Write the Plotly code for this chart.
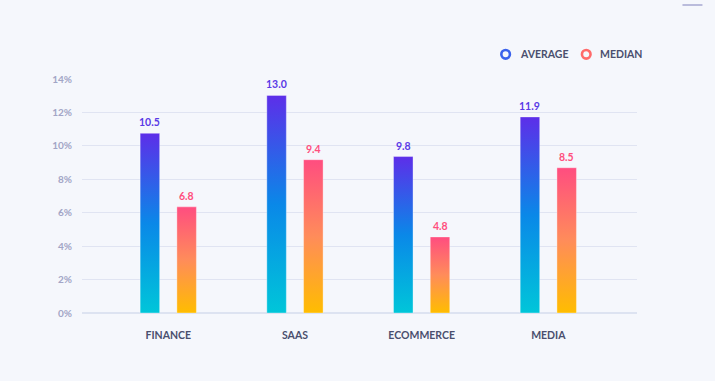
import plotly.graph_objects as go

categories = ["FINANCE", "SAAS", "ECOMMERCE", "MEDIA"]
average_heights = [10.75, 13.02, 9.36, 11.73]
median_heights = [6.35, 9.17, 4.55, 8.69]
average_labels = ["10.5", "13.0", "9.8", "11.9"]
median_labels = ["6.8", "9.4", "4.8", "8.5"]
y_ticks = [0, 2, 4, 6, 8, 10, 12, 14]
y_tick_labels = ["0%", "2%", "4%", "6%", "8%", "10%", "12%", "14%"]

BG = "#F5F7FC"
AVG_SCALE = [[0, "#00C6D9"], [0.5, "#0A88E8"], [1, "#5D2EE9"]]
MED_SCALE = [[0, "#FFBD00"], [0.5, "#FF8C5A"], [1, "#FF4D80"]]
AVG_TXT = "#5A3AE6"
MED_TXT = "#FF4F7E"
FONT = "Lato"

BAR_W = 0.154
AVG_OFF = -0.145
MED_OFF = 0.145

fig = go.Figure()


def add_bar(xc, v, scale):
    x0, x1 = xc - BAR_W / 2, xc + BAR_W / 2
    fig.add_trace(go.Scatter(
        x=[x0, x1, x1, x0, x0], y=[0, 0, v, v, 0],
        mode="lines", fill="toself",
        fillgradient=dict(type="vertical", colorscale=scale, start=0, stop=v),
        line=dict(width=1, color="rgba(255,255,255,0.35)"),
        hoverinfo="skip", showlegend=False))


for i, cat in enumerate(categories):
    add_bar(i + AVG_OFF, average_heights[i], AVG_SCALE)
    add_bar(i + MED_OFF, median_heights[i], MED_SCALE)

xs = list(range(len(categories)))

anns = []
for i in xs:
    for off, vals, labs, col in [(AVG_OFF, average_heights, average_labels, AVG_TXT),
                                 (MED_OFF, median_heights, median_labels, MED_TXT)]:
        anns.append(dict(x=i + off, y=vals[i], xref="x", yref="y", text=labs[i],
                         showarrow=False, xanchor="center", yanchor="bottom", yshift=3,
                         font=dict(family=FONT, size=10.5, color=col, weight="bold")))

# plot area in pixels: x 82..637.5, y 79..313
L, R, T, B = 82, 637.5, 79, 313


def px(x):
    return (x - L) / (R - L)


def py(y):
    return (B - y) / (B - T)


shapes = []
# legend
for cx, col, label, tx in [(506, "#3A62EC", "AVERAGE", 518), (586.7, "#FF6A6A", "MEDIAN", 598)]:
    r = 4.3
    shapes.append(dict(type="circle", xref="paper", yref="paper",
                       x0=px(cx - r), x1=px(cx + r), y0=py(54.3 + r), y1=py(54.3 - r),
                       line=dict(color=col, width=2.6), fillcolor=BG))
    anns.append(dict(xref="paper", yref="paper", x=px(tx), y=py(54.3), xanchor="left", yanchor="middle",
                     text=label, showarrow=False,
                     font=dict(family=FONT, size=10.5, color="#4A4F6E", weight="bold")))
# small top-right line
shapes.append(dict(type="line", xref="paper", yref="paper", x0=px(683), x1=px(703), y0=py(5), y1=py(5),
                   line=dict(color="#A6A8D2", width=1.5)))

fig.update_layout(
    width=715, height=381,
    margin=dict(l=L, r=715 - R, t=T, b=381 - B),
    paper_bgcolor=BG, plot_bgcolor=BG,
    showlegend=False,
    shapes=shapes, annotations=anns,
    xaxis=dict(range=[-0.681, 3.70], tickvals=xs, ticktext=categories,
               showgrid=False, zeroline=False, showline=False, ticks="",
               ticklabelstandoff=14,
               tickfont=dict(family=FONT, size=10.5, color="#4A4F6E", weight="bold"),
               fixedrange=True),
    yaxis=dict(range=[0, 14], tickvals=y_ticks, ticktext=y_tick_labels,
               showgrid=True, gridcolor="#E0E4F2", gridwidth=1,
               zeroline=True, zerolinecolor="#DDE3F1", zerolinewidth=2,
               showline=False, ticks="", ticklabelstandoff=9,
               tickfont=dict(family=FONT, size=10, color="#A2A5C6", weight="bold"),
               fixedrange=True),
)

fig.write_html(
    "out.html",
    config={"displayModeBar": False},
    post_script="document.body.style.margin='0';document.body.style.background='%s';" % BG,
)
